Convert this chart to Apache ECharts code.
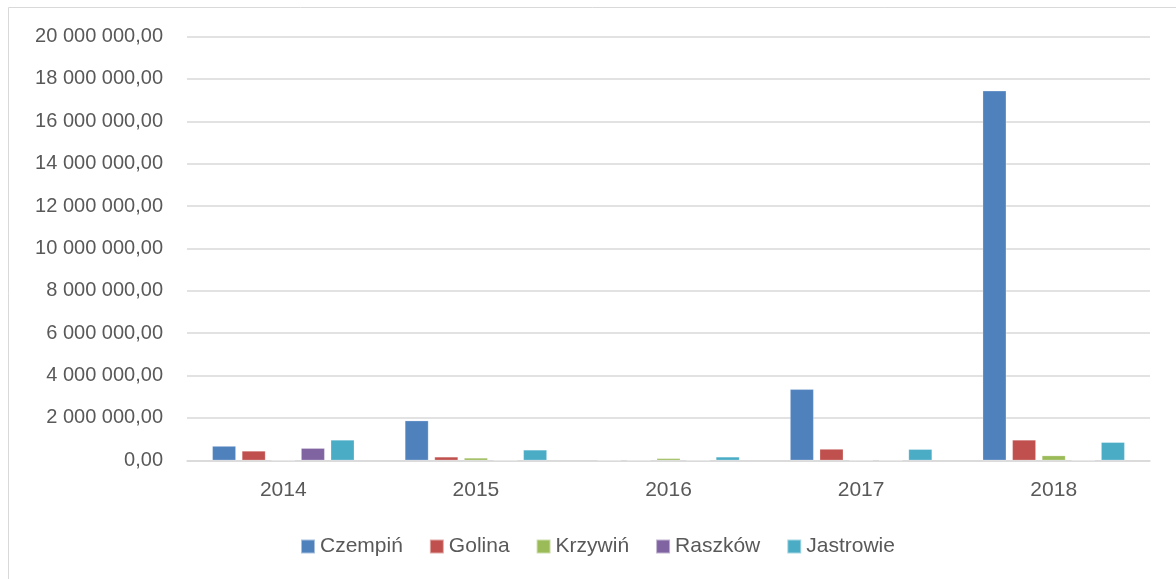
<!DOCTYPE html>
<html>
<head>
<meta charset="utf-8">
<script src="https://cdn.jsdelivr.net/npm/echarts@6/dist/echarts.min.js"></script>
<style>
  html, body { margin: 0; padding: 0; background: #fff; }
  #chart { width: 1176px; height: 579px; }
</style>
</head>
<body>
<div id="chart"></div>
<script>
// dane wykresu
const years = ['2014', '2015', '2016', '2017', '2018'];
const czempin = [670000, 1870000, 0, 3350000, 17440000];
const golina = [440000, 160000, 0, 530000, 960000];
const krzywin = [0, 110000, 90000, 0, 220000];
const raszkow = [570000, 0, 0, 0, 0];
const jastrowie = [960000, 490000, 160000, 520000, 850000];
const seriesNames = ['Czempiń', 'Golina', 'Krzywiń', 'Raszków', 'Jastrowie'];
const colors = ['#4F81BD', '#C0504D', '#9BBB59', '#8064A2', '#4BACC6'];

// format "20 000 000,00"
function formatPL(v) {
    const parts = v.toFixed(2).split('.');
    const intPart = parts[0].replace(/\B(?=(\d{3})+(?!\d))/g, ' ');
    return intPart + ',' + parts[1];
}

const chart = echarts.init(document.getElementById('chart'));

const allData = [czempin, golina, krzywin, raszkow, jastrowie];

const option = {
    animation: false,
    textStyle: { fontFamily: 'Liberation Sans' },
    color: colors,
    graphic: [{
        type: 'polyline',
        shape: { points: [[8.5, 580], [8.5, 7.5], [1176, 7.5]] },
        style: { stroke: '#d9d9d9', lineWidth: 1, fill: null }
    }],
    grid: { left: 187, right: 26, top: 36.6, bottom: 118.7 },
    legend: {
        top: 531,
        left: 295,
        itemWidth: 14,
        itemHeight: 14,
        itemGap: 26,
        icon: 'rect',
        textStyle: { fontSize: 21, color: '#595959', fontFamily: 'Liberation Sans' },
        data: seriesNames
    },
    xAxis: {
        type: 'category',
        data: years,
        axisLine: { lineStyle: { color: '#d9d9d9', width: 1.5 } },
        axisTick: { show: false },
        axisLabel: { fontSize: 21, color: '#595959', margin: 19 }
    },
    yAxis: {
        type: 'value',
        min: 0,
        max: 20000000,
        interval: 2000000,
        axisLine: { show: false },
        axisTick: { show: false },
        splitLine: { lineStyle: { color: '#d9d9d9', width: 1.5 } },
        axisLabel: { fontSize: 20, color: '#595959', margin: 24, formatter: formatPL }
    },
    series: seriesNames.map((name, i) => ({
        name: name,
        type: 'bar',
        data: allData[i],
        barWidth: 23.5,
        barGap: '26%',
        itemStyle: { color: colors[i], borderColor: 'rgba(255,255,255,0.5)', borderWidth: 0.5 }
    }))
};

chart.setOption(option);
</script>
</body>
</html>
